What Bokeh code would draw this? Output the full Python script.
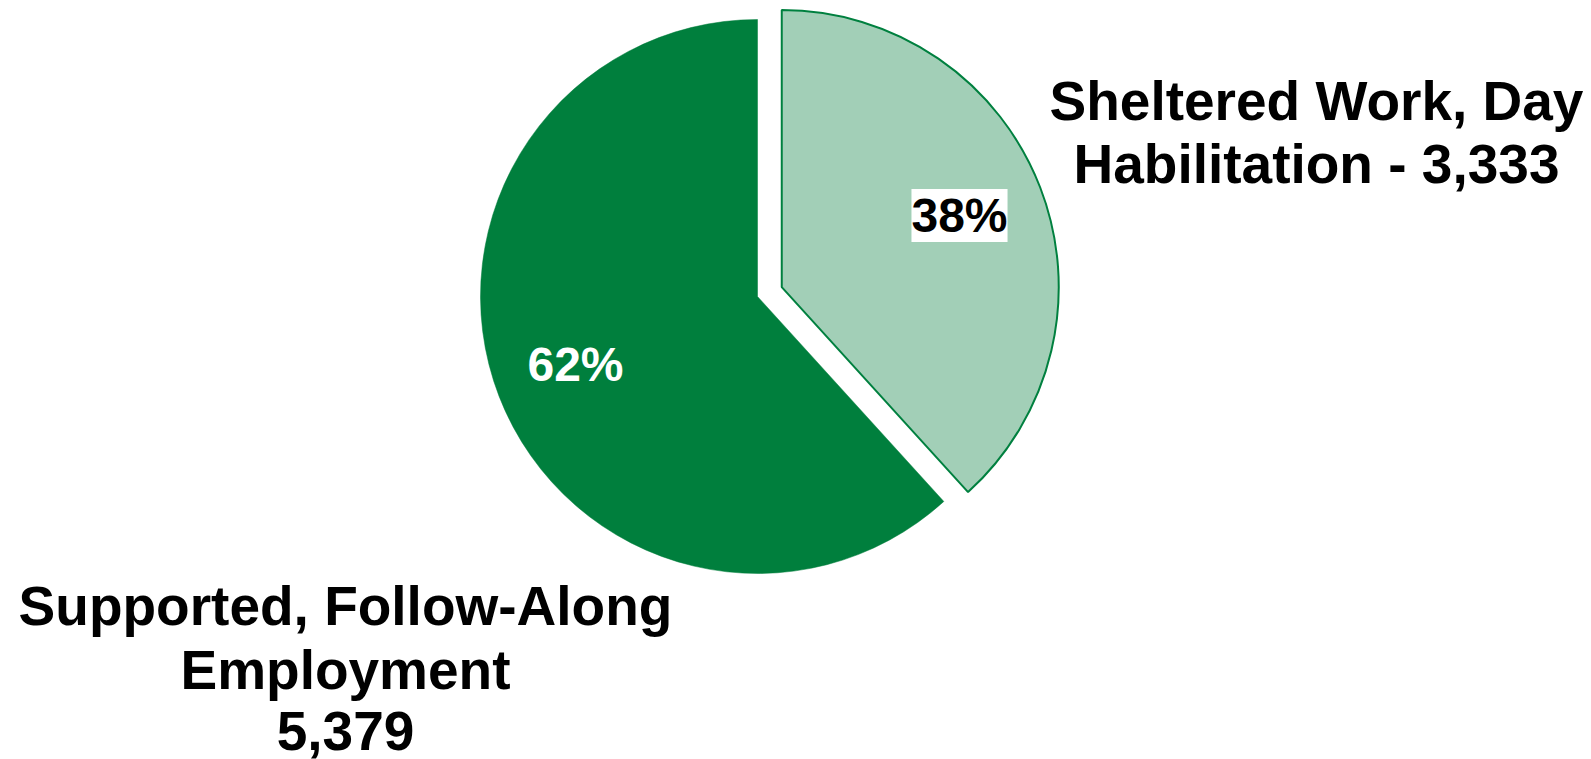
import math
from bokeh.plotting import figure
from bokeh.models import Range1d
from bokeh.core.properties import value
from bokeh.embed import file_html
from bokeh.resources import INLINE

# ---- data ----
categories = ["Sheltered Work, Day Habilitation", "Supported, Follow-Along Employment"]
counts = [3333, 5379]
colors = ["#A2CFB7", "#007F3D"]
label_lines = [["Sheltered Work, Day", "Habilitation - 3,333"],
               ["Supported, Follow-Along", "Employment", "5,379"]]

W, H = 1591, 759
p = figure(width=W, height=H, output_backend="svg", toolbar_location=None,
           x_range=Range1d(0, W), y_range=Range1d(0, H), min_border=0)
p.axis.visible = False
p.grid.visible = False
p.outline_line_color = None
p.background_fill_color = "white"

# layout (screen px, y measured from top converted to data)
cx, cy = 757, H - 296
R = 277
explode = 26
FONT = "Liberation Sans"

total = sum(counts)
start = 90.0  # 12 o'clock, going clockwise
for i, (c, col) in enumerate(zip(counts, colors)):
    sweep = 360.0 * c / total
    a_end = start
    a_start = start - sweep
    mid = math.radians((a_start + a_end) / 2)
    if i == 0:
        ox, oy = explode * math.cos(mid), explode * math.sin(mid)
        line_col, lw = "#00803F", 2
    else:
        ox, oy = 0, 0
        line_col, lw = col, 0.5
    p.wedge(x=[cx + ox], y=[cy + oy], radius=R,
            start_angle=[math.radians(a_start)], end_angle=[math.radians(a_end)],
            fill_color=col, line_color=line_col, line_width=lw)
    start = a_start

pct = [f"{round(100 * c / total)}%" for c in counts]

# percent labels
p.text(x=[959], y=[H - 215], text=[pct[0]], text_font=value(FONT), text_font_style="bold",
       text_font_size="48px", text_color="black", text_align="center", text_baseline="middle",
       background_fill_color="white", padding=0)
p.text(x=[575], y=[H - 364], text=[pct[1]], text_font=value(FONT), text_font_style="bold",
       text_font_size="48px", text_color="white", text_align="center", text_baseline="middle")

# category labels
xs0 = [1316] * 2
ys0 = [H - 100, H - 163]
p.text(x=xs0, y=ys0, text=label_lines[0], text_font=value(FONT), text_font_style="bold",
       text_font_size="55px", text_color="black", text_align="center", text_baseline="alphabetic")
xs1 = [345] * 3
ys1 = [H - 605, H - 669, H - 730]
p.text(x=xs1, y=ys1, text=label_lines[1], text_font=value(FONT), text_font_style="bold",
       text_font_size="55px", text_color="black", text_align="center", text_baseline="alphabetic")

open("out.html", "w").write(file_html(p, INLINE))
